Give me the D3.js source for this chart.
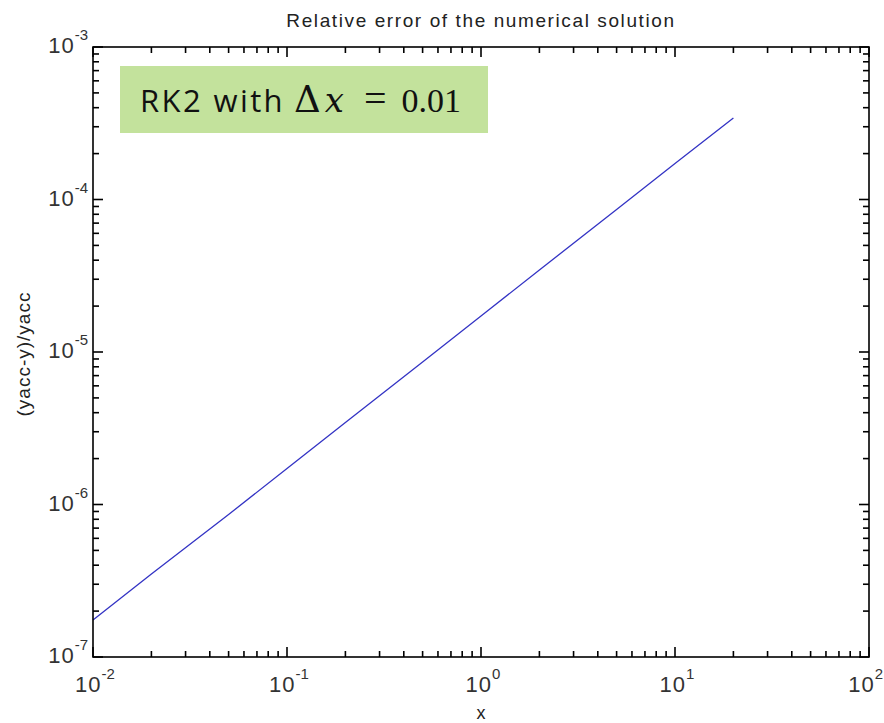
<!DOCTYPE html>
<html>
<head>
<meta charset="utf-8">
<script src="https://cdn.jsdelivr.net/npm/d3@7"></script>
<style>
  body { margin: 0; background: #fff; }
  svg { display: block; }
  text { font-family: "Liberation Sans", Arial, sans-serif; fill: #222; }
</style>
</head>
<body>
<svg id="chart" width="884" height="723"></svg>
<script>
// Values
const xValues = [0.01, 0.02, 0.05, 0.1, 0.2, 0.5, 1, 2, 5, 10, 20];
const errValues = [1.75e-7, 3.5e-7, 8.6e-7, 1.72e-6, 3.45e-6, 8.6e-6, 1.72e-5, 3.45e-5, 8.6e-5, 1.72e-4, 3.42e-4];
const xTickExps = [-2, -1, 0, 1, 2];
const yTickExps = [-7, -6, -5, -4, -3];

const svg = d3.select('#chart');
const margin = { left: 93, top: 47, right: 884 - 869, bottom: 723 - 657 };
const width = 884 - margin.left - margin.right;
const height = 723 - margin.top - margin.bottom;

const x = d3.scaleLog().domain([1e-2, 1e2]).range([margin.left, margin.left + width]);
const y = d3.scaleLog().domain([1e-7, 1e-3]).range([margin.top + height, margin.top]);

// minor + major tick values
const minorX = [];
for (let e = -2; e < 2; e++) for (let m = 2; m < 10; m++) minorX.push(m * Math.pow(10, e));
const minorY = [];
for (let e = -7; e < -3; e++) for (let m = 2; m < 10; m++) minorY.push(m * Math.pow(10, e));
const majorX = xTickExps.map((e) => Math.pow(10, e));
const majorY = yTickExps.map((e) => Math.pow(10, e));

// Ticks (inward, on all four sides)
const ticks = svg.append('g').attr('stroke', '#000').attr('stroke-width', 1.6);
function tickSet(vals, len, horizontal) {
  vals.forEach((v) => {
    if (horizontal) {
      const px = x(v);
      ticks.append('line').attr('x1', px).attr('x2', px).attr('y1', y(1e-7)).attr('y2', y(1e-7) - len);
      ticks.append('line').attr('x1', px).attr('x2', px).attr('y1', y(1e-3)).attr('y2', y(1e-3) + len);
    } else {
      const py = y(v);
      ticks.append('line').attr('y1', py).attr('y2', py).attr('x1', x(1e-2)).attr('x2', x(1e-2) + len);
      ticks.append('line').attr('y1', py).attr('y2', py).attr('x1', x(1e2)).attr('x2', x(1e2) - len);
    }
  });
}
tickSet(minorX, 6, true);
tickSet(majorX, 10, true);
tickSet(minorY, 6, false);
tickSet(majorY, 10, false);

// Data line
const line = d3.line().x((d) => x(d[0])).y((d) => y(d[1]));
svg.append('path')
  .datum(d3.zip(xValues, errValues))
  .attr('d', line)
  .attr('fill', 'none')
  .attr('stroke', '#3333c4')
  .attr('stroke-width', 1.3);

// Axes box
svg.append('rect')
  .attr('x', margin.left).attr('y', margin.top)
  .attr('width', width).attr('height', height)
  .attr('fill', 'none').attr('stroke', '#000').attr('stroke-width', 1.6);

// X tick labels (last one pulled in so it stays on the page)
xTickExps.forEach((e, i) => {
  const last = i === xTickExps.length - 1;
  const t = svg.append('text')
    .attr('x', last ? 883 : x(Math.pow(10, e)) + 2)
    .attr('y', 692)
    .attr('text-anchor', last ? 'end' : 'middle')
    .attr('font-size', 22)
    .style('fill', '#333');
  t.append('tspan').attr('letter-spacing', 1).text('10');
  t.append('tspan').attr('dy', -13).attr('font-size', 15).text(e);
});

// Y tick labels
yTickExps.forEach((e) => {
  const t = svg.append('text')
    .attr('x', 88)
    .attr('y', y(Math.pow(10, e)) + 6)
    .attr('text-anchor', 'end')
    .attr('font-size', 22)
    .style('fill', '#333');
  t.append('tspan').attr('letter-spacing', 1).text('10');
  t.append('tspan').attr('dy', -13).attr('font-size', 15).text(e);
});

// Title and axis labels
svg.append('text')
  .attr('x', 481).attr('y', 27)
  .attr('text-anchor', 'middle')
  .attr('font-size', 19)
  .attr('letter-spacing', 1.6)
  .text('Relative error of the numerical solution');

svg.append('text')
  .attr('x', 481).attr('y', 719)
  .attr('text-anchor', 'middle')
  .attr('font-size', 18)
  .text('x');

svg.append('text')
  .attr('transform', 'translate(30,354) rotate(-90)')
  .attr('text-anchor', 'middle')
  .attr('font-size', 19)
  .attr('letter-spacing', 1)
  .text('(yacc-y)/yacc');

// Annotation box
svg.append('rect')
  .attr('x', 120).attr('y', 66)
  .attr('width', 368).attr('height', 67)
  .attr('fill', '#c3e29c');

const note = svg.append('text')
  .attr('x', 140).attr('y', 112)
  .attr('font-size', 31)
  .style('fill', '#111');
note.append('tspan').style('font-family', '"Open Sans", sans-serif').attr('letter-spacing', 2.4).text('RK2 with');
note.append('tspan').attr('dx', 9).style('font-family', '"DejaVu Serif", serif').attr('font-size', 37).text('Δ');
note.append('tspan').attr('dx', 4).style('font-family', '"DejaVu Serif", serif').attr('font-size', 34).style('font-style', 'italic').text('x');
note.append('tspan').attr('dx', 20).style('font-family', '"Liberation Serif", serif').attr('font-size', 40).text('=');
note.append('tspan').attr('dx', 15).style('font-family', '"Liberation Serif", serif').attr('font-size', 34).text('0.01');
</script>
</body>
</html>
